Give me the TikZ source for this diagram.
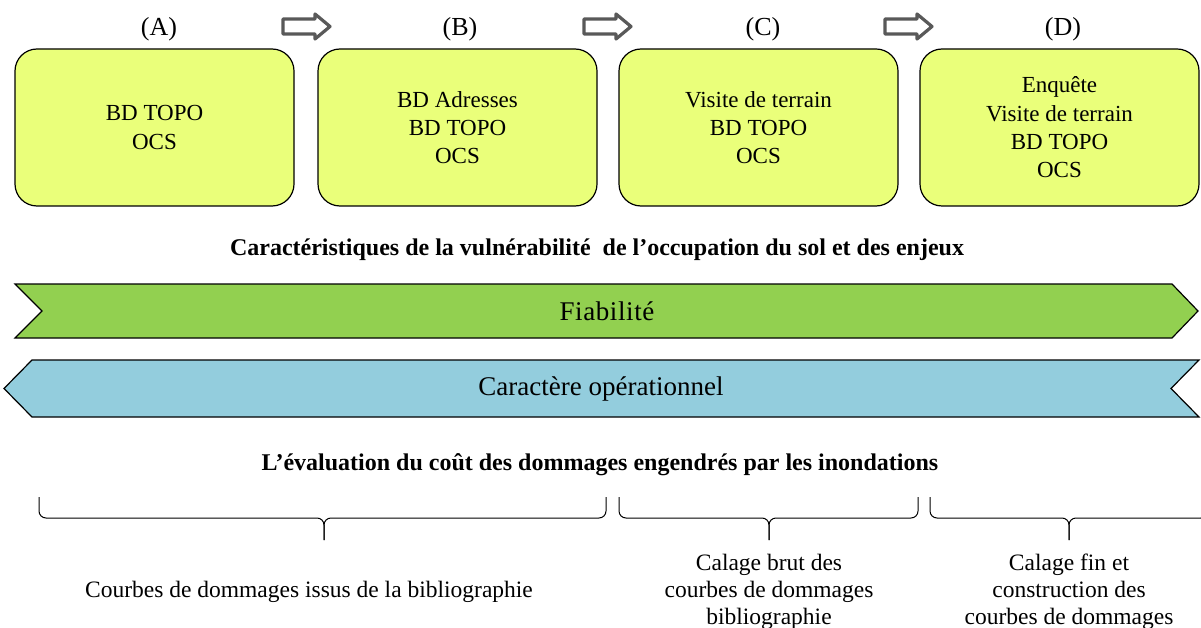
\documentclass[tikz,border=0pt]{standalone}
\usepackage{fontspec}
\setmainfont{Liberation Serif}
\begin{document}
\begin{tikzpicture}[x=1pt,y=-1pt,
  stepbox/.style={draw=black,line width=1.2pt,fill=boxfill,rounded corners=22pt,
    minimum width=279pt,minimum height=157pt,align=center,inner sep=0pt,
    font=\fontsize{23}{28.3}\selectfont},
  steplabel/.style={font=\fontsize{26}{28}\selectfont,inner sep=0pt},
  blockarrow/.style={draw=arrowgray,line width=3.2pt,fill=white,line join=round},
  banner/.style={draw=black,line width=1.2pt},
  titletext/.style={font=\bfseries\fontsize{24}{28}\selectfont,inner sep=0pt},
  bracestyle/.style={draw=black,line width=1pt},
  captext/.style={align=center,inner sep=0pt,font=\fontsize{23.5}{27}\selectfont}
]
\definecolor{boxfill}{HTML}{EAFF7A}
\definecolor{arrowgray}{HTML}{595959}
\definecolor{bgreen}{HTML}{92D050}
\definecolor{bblue}{HTML}{93CDDD}
\useasboundingbox (0,0) rectangle (1201,628);

% step boxes
\node[stepbox] (A) at (154.5,127.5) {BD TOPO\\OCS};
\node[stepbox] (B) at (457.5,127.5) {BD Adresses\\BD TOPO\\OCS};
\node[stepbox] (C) at (758.5,127.5) {Visite de terrain\\BD TOPO\\OCS};
\node[stepbox] (D) at (1059.5,127.5) {Enquête\\Visite de terrain\\BD TOPO\\OCS};

\node[steplabel] (lA) at (159,29) {(A)};
\node[steplabel] (lB) at (460,29) {(B)};
\node[steplabel] (lC) at (763,29) {(C)};
\node[steplabel] (lD) at (1063,29) {(D)};

% block arrows
\foreach \x in {283,584,885}{
  \draw[blockarrow] (\x,19) -- (\x+32,19) -- (\x+32,14) -- (\x+47,26.5) -- (\x+32,39) -- (\x+32,34) -- (\x,34) -- cycle;
}

% title 1
\node[titletext] (t1) at (597,250) {Caractéristiques de la vulnérabilité\ \ de l’occupation du sol et des enjeux};

% banners
\draw[banner,fill=bgreen] (15,284) -- (1172,284) -- (1198,311) -- (1172,338) -- (15,338) -- (42,311) -- cycle;
\node[font=\fontsize{27}{30}\selectfont,inner sep=0pt] (fia) at (607,311) {F\kern.6pt i\kern.6pt a\kern.6pt b\kern.6pt i\kern.6pt l\kern.6pt i\kern.6pt t\kern.6pt é};
\draw[banner,fill=bblue] (32,360) -- (1199,360) -- (1171,388.5) -- (1199,417) -- (32,417) -- (4,388.5) -- cycle;
\node[font=\fontsize{27}{30}\selectfont,inner sep=0pt] (ope) at (601,388.5) {Caractère opérationnel};

% title 2
\node[titletext] (t2) at (600,465) {L’évaluation du coût des dommages engendrés par les inondations};

% braces
\foreach \l/\r/\c in {39/606/324, 619/918/769, 930/1208/1069}{
  \draw[bracestyle] (\l,497) -- (\l,511) arc[start angle=180,end angle=90,radius=7] -- (\c-7,518) arc[start angle=-90,end angle=0,radius=7] -- (\c,540);
  \draw[bracestyle] (\r,497) -- (\r,511) arc[start angle=0,end angle=90,radius=7] -- (\c+7,518) arc[start angle=-90,end angle=-180,radius=7] -- (\c,540);
}

% captions
\node[captext,anchor=base] (k1) at (309,597) {Courbes de dommages issus de la bibliographie};
\node[captext,anchor=base] (k2a) at (769,570) {Calage brut des};
\node[captext,anchor=base] (k2b) at (769,597) {courbes de dommages};
\node[captext,anchor=base] (k2c) at (769,624) {bibliographie};
\node[captext,anchor=base] (k3a) at (1069,570) {Calage fin et};
\node[captext,anchor=base] (k3b) at (1069,597) {construction des};
\node[captext,anchor=base] (k3c) at (1069,624) {courbes de dommages};
\end{tikzpicture}
\end{document}
